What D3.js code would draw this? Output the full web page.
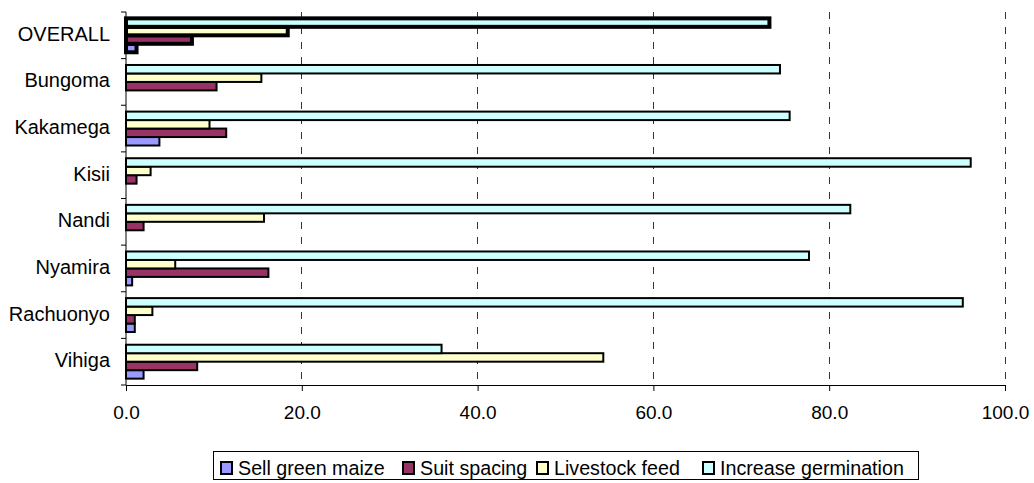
<!DOCTYPE html>
<html>
<head>
<meta charset="utf-8">
<script src="https://cdn.jsdelivr.net/npm/d3@7"></script>
<style>
  html, body { margin: 0; padding: 0; background: #fff; }
  svg { display: block; font-family: "Liberation Sans", Arial, sans-serif; }
</style>
</head>
<body>
<svg id="chart" width="1034" height="483"></svg>
<script>
const categories = ["OVERALL", "Bungoma", "Kakamega", "Kisii", "Nandi", "Nyamira", "Rachuonyo", "Vihiga"];
const seriesNames = ["Sell green maize", "Suit spacing", "Livestock feed", "Increase germination"];
const sellGreenMaize = [1.2, 0, 3.8, 0, 0, 0.7, 1.0, 2.0];
const suitSpacing = [7.5, 10.3, 11.4, 1.2, 2.0, 16.2, 1.0, 8.1];
const livestockFeed = [18.4, 15.4, 9.5, 2.8, 15.7, 5.6, 3.0, 54.3];
const increaseGermination = [73.2, 74.4, 75.5, 96.1, 82.4, 77.7, 95.2, 35.9];
const seriesColors = ["#9999FF", "#993366", "#FFFFCC", "#CCFFFF"];
const xTicks = [0, 20, 40, 60, 80, 100];

const seriesValues = [sellGreenMaize, suitSpacing, livestockFeed, increaseGermination];

const svg = d3.select("#chart");
const plotLeft = 126, plotRight = 1005, plotTop = 12, plotBottom = 385;

const x = d3.scaleLinear().domain([0, 100]).range([plotLeft, plotRight]);
const y = d3.scaleBand().domain(categories).range([plotTop, plotBottom]).paddingInner(0).paddingOuter(0);
const inner = d3.scaleBand()
  .domain(seriesNames.slice().reverse())
  .range([0, y.bandwidth()])
  .paddingInner(0).paddingOuter(0.75);
const color = d3.scaleOrdinal().domain(seriesNames).range(seriesColors);

// gridlines
svg.append("g")
  .selectAll("line")
  .data(xTicks.filter(d => d > 0))
  .join("line")
  .attr("x1", d => x(d)).attr("x2", d => x(d))
  .attr("y1", plotTop).attr("y2", plotBottom)
  .attr("stroke", "#333")
  .attr("stroke-width", 1)
  .attr("stroke-dasharray", "7,8")
  .attr("shape-rendering", "crispEdges");

// bars
const rows = [];
categories.forEach((c, i) => {
  seriesNames.forEach((s, j) => {
    rows.push({ cat: c, series: s, value: seriesValues[j][i] });
  });
});

svg.append("g")
  .selectAll("rect")
  .data(rows.filter(d => d.value > 0))
  .join("rect")
  .attr("x", x(0))
  .attr("y", d => y(d.cat) + inner(d.series))
  .attr("width", d => x(d.value) - x(0))
  .attr("height", inner.bandwidth())
  .attr("fill", d => color(d.series))
  .attr("stroke", "#000")
  .attr("stroke-width", d => d.cat === "OVERALL" ? 4 : 2);

// x axis
const xAxis = d3.axisBottom(x)
  .tickValues(xTicks)
  .tickFormat(d3.format(".1f"))
  .tickSizeInner(6).tickSizeOuter(0).tickPadding(15);
const gx = svg.append("g").attr("transform", `translate(0,${plotBottom})`).call(xAxis);
gx.select(".domain").attr("stroke", "#000").attr("stroke-width", 1);
gx.selectAll(".tick line").attr("stroke", "#000");
gx.selectAll(".tick text").attr("font-size", 19).attr("fill", "#000")
  .attr("font-family", "Liberation Sans, Arial, sans-serif");

// y axis
const gy = svg.append("g").attr("transform", `translate(${plotLeft},0)`);
gy.append("line").attr("x1", 0).attr("x2", 0).attr("y1", plotTop).attr("y2", plotBottom)
  .attr("stroke", "#000").attr("stroke-width", 1);
const bounds = categories.map(c => y(c)).concat([plotBottom]);
gy.selectAll("line.tk").data(bounds).join("line").attr("class", "tk")
  .attr("x1", -5).attr("x2", 0)
  .attr("y1", d => d).attr("y2", d => d)
  .attr("stroke", "#000").attr("stroke-width", 1);
gy.selectAll("text").data(categories).join("text")
  .attr("x", -16)
  .attr("y", d => y(d) + y.bandwidth() / 2 - 1.5)
  .attr("dy", "0.35em")
  .attr("text-anchor", "end")
  .attr("font-size", 20)
  .attr("fill", "#000")
  .text(d => d);

// legend
const legend = svg.append("g");
legend.append("rect")
  .attr("x", 213.5).attr("y", 451.5).attr("width", 705).attr("height", 28)
  .attr("fill", "#fff").attr("stroke", "#000").attr("stroke-width", 1);
const legendX = [221, 403, 537, 703];
const lg = legend.selectAll("g.item").data(seriesNames).join("g").attr("class", "item")
  .attr("transform", (d, i) => `translate(${legendX[i]},0)`);
lg.append("rect")
  .attr("x", 0).attr("y", 462).attr("width", 11).attr("height", 12)
  .attr("fill", d => color(d)).attr("stroke", "#000").attr("stroke-width", 2);
lg.append("text")
  .attr("x", 17).attr("y", 468).attr("dy", "0.35em")
  .attr("font-size", 19.7).attr("fill", "#000")
  .text(d => d);
</script>
</body>
</html>
